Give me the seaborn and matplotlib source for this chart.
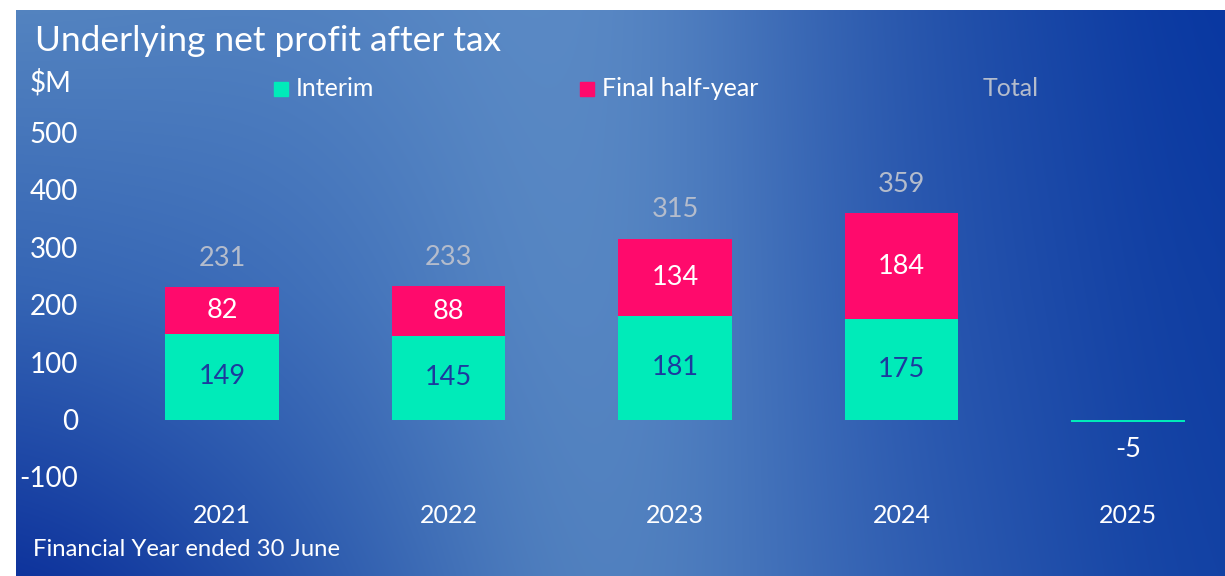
import numpy as np
import pandas as pd
import matplotlib.pyplot as plt
import seaborn as sns
from matplotlib.patches import Rectangle

years = ["2021", "2022", "2023", "2024", "2025"]
interim = [149, 145, 181, 175, -5]
final_half = [82, 88, 134, 184, 0]
totals = [231, 233, 315, 359, -5]
y_ticks = [-100, 0, 100, 200, 300, 400, 500]

TEAL = "#00EBB9"
PINK = "#FF0A6C"
NAVY = "#1C3A9E"
GREY = "#B4BCCC"
FONT = ["Lato", "DejaVu Sans"]

plt.rcParams["font.family"] = FONT
plt.rcParams["axes.unicode_minus"] = False

W, H = 1225, 576
fig = plt.figure(figsize=(W / 100, H / 100), dpi=100)


def px(x0, y0, w, h):
    # pixel box with top-left origin -> figure fraction
    return [x0 / W, 1 - (y0 + h) / H, w / W, h / H]


def smooth_x(a, k=181):
    # moving average along x (edge padded), softens the grid kinks
    pad = k // 2
    p = np.pad(a, ((0, 0), (pad, pad), (0, 0)), mode="edge")
    c = np.cumsum(p, axis=1)
    c = np.concatenate([np.zeros((a.shape[0], 1, 3)), c], axis=1)
    return (c[:, k:, :] - c[:, :-k, :]) / k


# gradient background panel: colours sampled on a coarse grid, blended
gx = [16, 300, 600, 900, 1225]
gy = [10, 290, 576]
grid = np.array([
    [(84, 132, 192), (80, 128, 192), (95, 142, 199), (40, 86, 172), (5, 52, 160)],
    [(52, 100, 180), (62, 110, 185), (94, 142, 198), (42, 88, 176), (12, 58, 160)],
    [(10, 46, 154), (40, 86, 172), (90, 138, 195), (48, 94, 178), (15, 62, 162)],
], dtype=float) / 255

xs = np.arange(16, W)
ys = np.arange(10, H)
rows = np.stack([[np.interp(xs, gx, grid[j, :, c]) for c in range(3)] for j in range(len(gy))])
img = np.empty((len(ys), len(xs), 3))
for c in range(3):
    for k in range(len(xs)):
        img[:, k, c] = np.interp(ys, gy, rows[:, c, k])
img = smooth_x(smooth_x(img))

bg = fig.add_axes(px(16, 10, W - 16, H - 10))
bg.imshow(img, aspect="auto", interpolation="bilinear")
bg.axis("off")

df = pd.DataFrame({"year": years, "interim": interim, "final": final_half, "total": totals})
df["stack"] = df["interim"] + df["final"]

ax = fig.add_axes(px(100, 100, 1125, 400))
ax.patch.set_alpha(0)
sns.barplot(data=df, x="year", y="stack", color=PINK, saturation=1, width=0.5, ax=ax)
sns.barplot(data=df, x="year", y="interim", color=TEAL, saturation=1, width=0.5, ax=ax)

ax.set_xlim(-0.5386, 4.428)
ax.set_ylim(-140.2, 556.6)
ax.set_yticks(y_ticks)
ax.set_xlabel("")
ax.set_ylabel("")
ax.tick_params(length=0, colors="white", labelsize=20)
ax.tick_params(axis="y", pad=16)
ax.tick_params(axis="x", pad=3, labelsize=18)
sns.despine(ax=ax, left=True, bottom=True)

for i, row in df.iterrows():
    if row["interim"] > 0:
        ax.text(i, row["interim"] / 2, f"{row['interim']}", color=NAVY,
                ha="center", va="center", fontsize=19.5)
    if row["final"] > 0:
        ax.text(i, row["interim"] + row["final"] / 2, f"{row['final']}",
                color="white", ha="center", va="center", fontsize=19.5)
    if row["total"] > 0:
        ax.text(i, row["total"] + 50, f"{row['total']}", color=GREY,
                ha="center", va="center", fontsize=19.5)
    else:
        ax.text(i, row["total"] - 47, f"{row['total']}", color="white",
                ha="center", va="center", fontsize=19.5)

# title, unit, legend, footer
fig.text(35 / W, 1 - 41 / H, "Underlying net profit after tax", color="white",
         fontsize=25.5, ha="left", va="center")
fig.text(30 / W, 1 - 83 / H, "$M", color="white", fontsize=20, ha="left", va="center")

for x0, label, col in [(274, "Interim", TEAL), (580, "Final half-year", PINK)]:
    fig.patches.append(Rectangle((x0 / W, 1 - 96 / H), 14 / W, 14 / H, color=col,
                                 transform=fig.transFigure, figure=fig))
    fig.text((x0 + 22) / W, 1 - 89 / H, label, color="white", fontsize=18,
             ha="left", va="center")
fig.text(983 / W, 1 - 89 / H, "Total", color=GREY, fontsize=18, ha="left", va="center")

fig.text(33 / W, 1 - 549 / H, "Financial Year ended 30 June", color="white",
         fontsize=17.2, ha="left", va="center")

fig.savefig("out.png", dpi=100, facecolor="white")
